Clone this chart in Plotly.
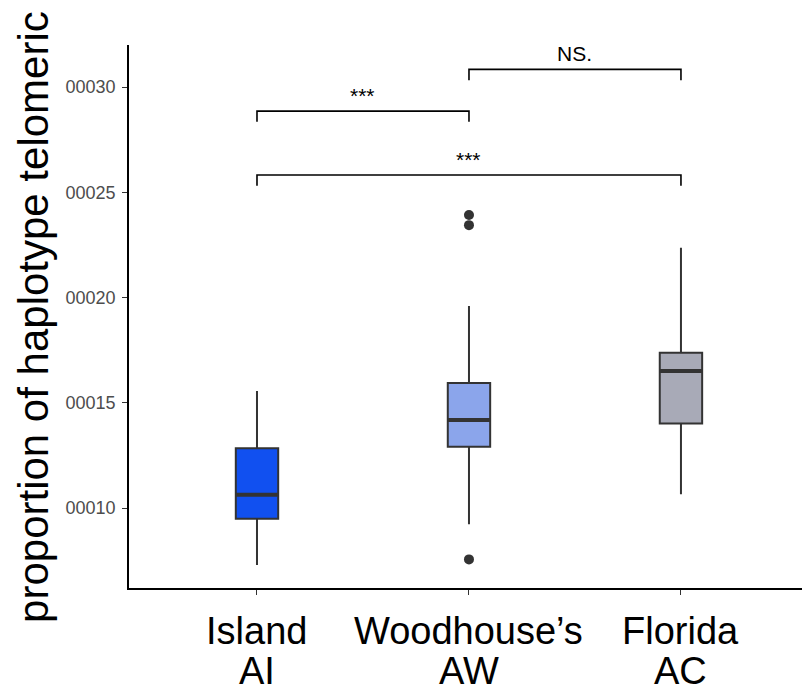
import plotly.graph_objects as go

# ---- data ----
categories = ["Island", "Woodhouse\u2019s", "Florida"]
codes = ["AI", "AW", "AC"]
colors = ["#1150F0", "#8BA5EB", "#A8AAB7"]
lower_whisker = [0.0000729, 0.0000923, 0.0001065]
q1 = [0.0000949, 0.0001291, 0.0001402]
median = [0.0001063, 0.0001418, 0.0001651]
q3 = [0.0001284, 0.0001594, 0.0001738]
upper_whisker = [0.0001556, 0.0001960, 0.0002237]
outlier_group = [1, 1, 1]
outlier_values = [0.0002392, 0.0002344, 0.0000756]

# significance brackets: (left group, right group)
bracket_left = [0, 0, 1]
bracket_right = [1, 2, 2]
bracket_y = [0.0002886, 0.0002582, 0.0003084]
bracket_drop = 0.0000051
bracket_label = ["***", "***", "NS."]

y_tickvals = [0.00010, 0.00015, 0.00020, 0.00025, 0.00030]
y_ticktext = ["00010", "00015", "00020", "00025", "00030"]
y_title = "proportion of haplotype telomeric"

box_width = 0.2
dark = "#333333"
FONT = "Liberation Sans, Arial, sans-serif"

fig = go.Figure()
for i, cat in enumerate(categories):
    fig.add_trace(go.Box(
        x=[i], q1=[q1[i]], median=[median[i]], q3=[q3[i]],
        lowerfence=[lower_whisker[i]], upperfence=[upper_whisker[i]],
        fillcolor=colors[i], line=dict(color=dark, width=2),
        whiskerwidth=0, width=box_width, boxpoints=False,
        name=cat, showlegend=False, hoverinfo="skip",
    ))
    # thick median line
    fig.add_trace(go.Scatter(
        x=[i - box_width / 2, i + box_width / 2], y=[median[i], median[i]],
        mode="lines", line=dict(color=dark, width=4),
        showlegend=False, hoverinfo="skip",
    ))

fig.add_trace(go.Scatter(
    x=outlier_group, y=outlier_values, mode="markers",
    marker=dict(color=dark, size=10), showlegend=False, hoverinfo="skip",
))

for l, r, yv, lab in zip(bracket_left, bracket_right, bracket_y, bracket_label):
    fig.add_trace(go.Scatter(
        x=[l, l, r, r], y=[yv - bracket_drop, yv, yv, yv - bracket_drop],
        mode="lines", line=dict(color="black", width=1.6),
        showlegend=False, hoverinfo="skip",
    ))
    fig.add_annotation(
        x=(l + r) / 2, y=yv, xref="x", yref="y", text=lab, showarrow=False,
        yanchor="bottom", yshift=2,
        font=dict(family=FONT, size=21, color="black"),
    )

for i, (cat, code) in enumerate(zip(categories, codes)):
    fig.add_annotation(
        x=i, y=0, xref="x", yref="paper", text=cat, showarrow=False,
        yanchor="middle", yshift=-43,
        font=dict(family=FONT, size=38, color="black"),
    )
    fig.add_annotation(
        x=i, y=0, xref="x", yref="paper", text=code, showarrow=False,
        yanchor="middle", yshift=-83,
        font=dict(family=FONT, size=38, color="black"),
    )

fig.add_annotation(
    x=-0.142, y=0.5, xref="paper", yref="paper", text=y_title, showarrow=False,
    textangle=-90, xanchor="center", yanchor="middle",
    font=dict(family=FONT, size=42, color="black"),
)

fig.update_layout(
    width=802, height=692,
    margin=dict(l=129, r=0, t=45, b=104),
    paper_bgcolor="white", plot_bgcolor="white",
    showlegend=False,
    font=dict(family=FONT),
    xaxis=dict(
        range=[-0.6038, 2.571], tickvals=[0, 1, 2], showticklabels=False,
        showline=True, linecolor="black", linewidth=1.6,
        ticks="outside", ticklen=5, tickcolor=dark, tickwidth=1.4,
        showgrid=False, zeroline=False,
    ),
    yaxis=dict(
        range=[0.000062, 0.00032], tickvals=y_tickvals, ticktext=y_ticktext,
        showline=True, linecolor="black", linewidth=1.6,
        ticks="outside", ticklen=5, tickcolor=dark, tickwidth=1.4,
        tickfont=dict(size=18, color="#4D4D4D"), ticklabelstandoff=3,
        showgrid=False, zeroline=False,
    ),
)

fig.write_html("out.html")
